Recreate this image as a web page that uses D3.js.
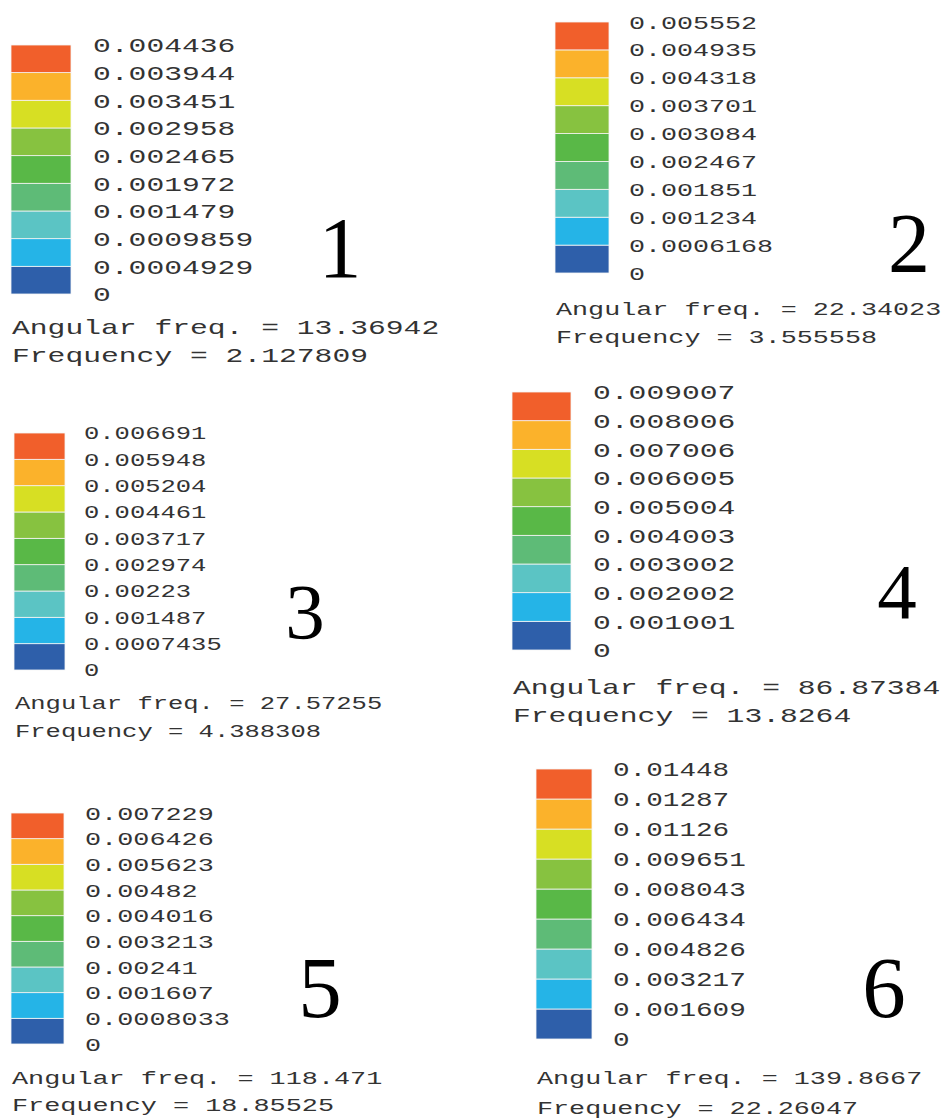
<!DOCTYPE html>
<html>
<head>
<meta charset="utf-8">
<script src="https://cdn.jsdelivr.net/npm/d3@7"></script>
<style>
  body { margin: 0; background: #fff; }
</style>
</head>
<body>
<div id="chart"></div>
<script>
// data
var panelNumbers = ["1", "2", "3", "4", "5", "6"];
var angularFreq = ["13.36942", "22.34023", "27.57255", "86.87384", "118.471", "139.8667"];
var frequency = ["2.127809", "3.555558", "4.388308", "13.8264", "18.85525", "22.26047"];
var ticks1 = ["0", "0.0004929", "0.0009859", "0.001479", "0.001972", "0.002465", "0.002958", "0.003451", "0.003944", "0.004436"];
var ticks2 = ["0", "0.0006168", "0.001234", "0.001851", "0.002467", "0.003084", "0.003701", "0.004318", "0.004935", "0.005552"];
var ticks3 = ["0", "0.0007435", "0.001487", "0.00223", "0.002974", "0.003717", "0.004461", "0.005204", "0.005948", "0.006691"];
var ticks4 = ["0", "0.001001", "0.002002", "0.003002", "0.004003", "0.005004", "0.006005", "0.007006", "0.008006", "0.009007"];
var ticks5 = ["0", "0.0008033", "0.001607", "0.00241", "0.003213", "0.004016", "0.00482", "0.005623", "0.006426", "0.007229"];
var ticks6 = ["0", "0.001609", "0.003217", "0.004826", "0.006434", "0.008043", "0.009651", "0.01126", "0.01287", "0.01448"];
var tickSets = [ticks1, ticks2, ticks3, ticks4, ticks5, ticks6];
// bottom to top
var colors = ["#2e5faa", "#25b4e7", "#5bc4c4", "#5ebb77", "#59b847", "#87c240", "#d7df23", "#fbb22b", "#f15f2b"];

// layout of each panel (bar box, label column, char advance, text rows, big number)
var layout = [
  {bx: 11, bw: 60, top: 45, bottom: 294, lx: 93, a: 17.8, ab: 17.8, tx: 12, ay: 327, fy: 355, nx: 340, ny: 277, nfs: 86},
  {bx: 555, bw: 54, top: 22, bottom: 273, lx: 629, a: 16.0, ab: 16.05, tx: 556, ay: 308, fy: 336, nx: 909, ny: 272, nfs: 84},
  {bx: 14, bw: 51, top: 433, bottom: 670, lx: 84, a: 15.3, ab: 15.3, tx: 15, ay: 703, fy: 731, nx: 305, ny: 638, nfs: 79},
  {bx: 512, bw: 59, top: 392, bottom: 650, lx: 593, a: 17.8, ab: 17.8, tx: 513, ay: 687, fy: 715, nx: 897, ny: 618, nfs: 79},
  {bx: 11, bw: 53, top: 813, bottom: 1044, lx: 85, a: 16.1, ab: 16.1, tx: 12, ay: 1077, fy: 1104, nx: 320, ny: 1017, nfs: 87},
  {bx: 536, bw: 56, top: 769, bottom: 1039, lx: 613, a: 16.6, ab: 16.05, tx: 537, ay: 1077, fy: 1107, nx: 884, ny: 1017, nfs: 87}
];

var w = 942;
var h = 1118;
var mono = "'Liberation Mono', 'DejaVu Sans Mono', monospace";

var svg = d3.select("#chart")
            .append("svg")
            .attr("width", w)
            .attr("height", h);

layout.forEach(function(p, i){
    var labels = tickSets[i];
    var values = labels.map(Number);
    var g = svg.append("g");

    var yScale = d3.scaleLinear()
                    .domain([0, d3.max(values)])
                    .range([p.bottom, p.top]);

    // colour cells between consecutive tick values
    g.selectAll("rect")
        .data(colors)
        .enter()
        .append("rect")
        .attr("x", p.bx)
        .attr("y", function(d, j){ return yScale(values[j + 1]); })
        .attr("width", p.bw)
        .attr("height", function(d, j){ return yScale(values[j]) - yScale(values[j + 1]); })
        .attr("fill", function(d){ return d; })
        .attr("stroke", "#f4f4f4")
        .attr("stroke-width", 0.8);

    var fs = 21 * p.a / 17.8;
    var axis = d3.axisRight(yScale)
                .tickValues(values)
                .tickSize(0)
                .tickPadding(0)
                .tickFormat(function(d, j){ return labels[j]; });

    var ax = g.append("g")
        .attr("transform", "translate(" + p.lx + ",0)")
        .call(axis);
    ax.select(".domain").remove();
    ax.selectAll("text")
        .attr("font-family", mono)
        .attr("font-size", fs)
        .attr("fill", "#333")
        .attr("dy", "0.32em")
        .attr("lengthAdjust", "spacingAndGlyphs")
        .attr("textLength", function(){ return p.a * this.textContent.length; });

    var bottomText = ["Angular freq. = " + angularFreq[i], "Frequency = " + frequency[i]];
    g.selectAll(".info")
        .data(bottomText)
        .enter()
        .append("text")
        .attr("class", "info")
        .attr("x", p.tx)
        .attr("y", function(d, j){ return j === 0 ? p.ay : p.fy; })
        .attr("dy", "0.35em")
        .attr("font-family", mono)
        .attr("font-size", 21 * p.ab / 17.8)
        .attr("fill", "#333")
        .attr("lengthAdjust", "spacingAndGlyphs")
        .attr("textLength", function(d){ return p.ab * d.length; })
        .text(function(d){ return d; });

    g.append("text")
        .attr("x", p.nx)
        .attr("y", p.ny)
        .attr("text-anchor", "middle")
        .attr("font-family", "'Liberation Serif', 'Times New Roman', serif")
        .attr("font-size", p.nfs)
        .attr("fill", "#000")
        .text(panelNumbers[i]);
});
</script>
</body>
</html>
